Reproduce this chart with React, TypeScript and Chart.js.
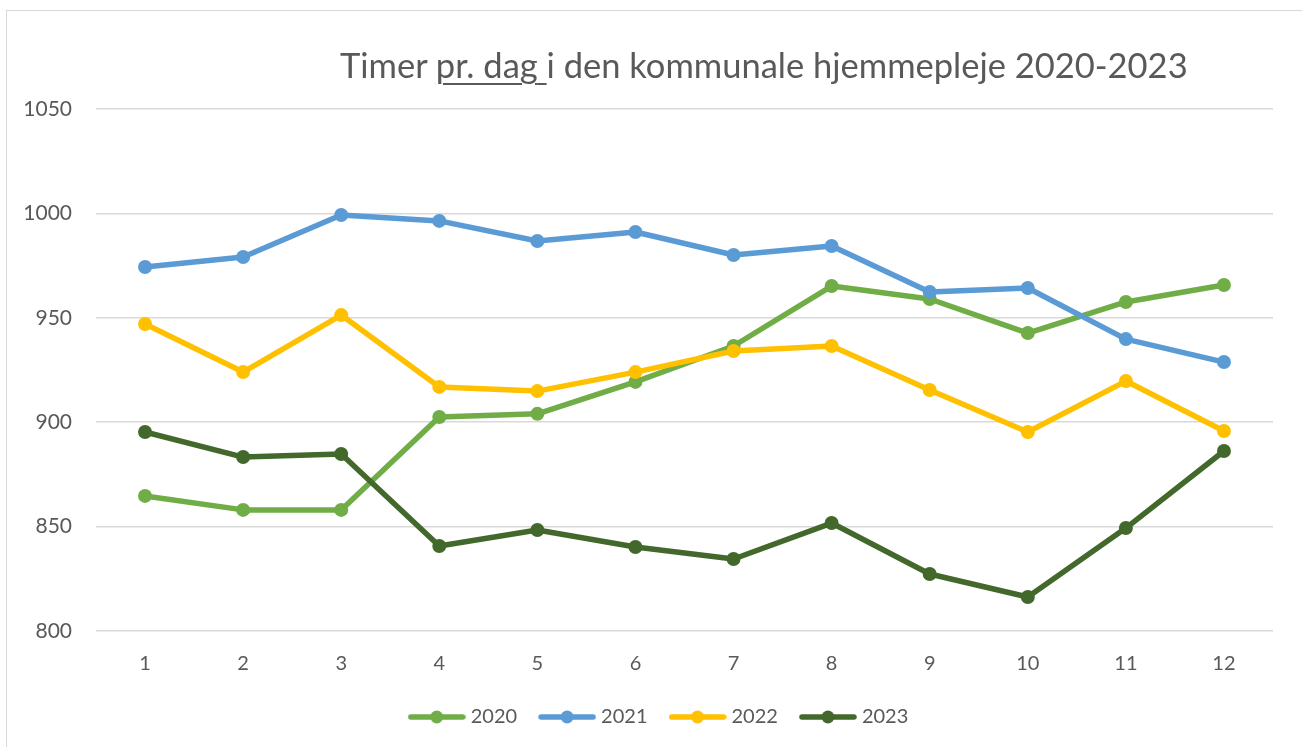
import React, { useEffect, useRef } from "react";
import { Chart, registerables } from "chart.js";
Chart.register(...registerables);

const months = ["1", "2", "3", "4", "5", "6", "7", "8", "9", "10", "11", "12"];
const series2020 = [864.7, 858, 858, 902.5, 904, 919.3, 936.5, 965.2, 959, 942.7, 957.6, 965.7];
const series2021 = [974.3, 979.1, 999.2, 996.4, 986.8, 991.1, 980.1, 984.4, 962.4, 964.3, 939.8, 928.8];
const series2022 = [947, 924, 951.3, 916.9, 914.9, 924, 934.1, 936.5, 915.4, 895.3, 919.7, 895.8];
const series2023 = [895.3, 883.3, 884.8, 840.7, 848.4, 840.2, 834.5, 851.7, 827.3, 816.3, 849.3, 886.2];
const seriesNames = ["2020", "2021", "2022", "2023"];
const seriesColors = ["#70AD47", "#5B9BD5", "#FFC000", "#43682B"];

const FONT = "Lato, 'Open Sans', sans-serif";
const TEXT = "#595959";

function legendImage(color: string) {
  const c = document.createElement("canvas");
  c.width = 58;
  c.height = 16;
  const ctx = c.getContext("2d")!;
  ctx.strokeStyle = color;
  ctx.lineWidth = 5.5;
  ctx.lineCap = "round";
  ctx.beginPath();
  ctx.moveTo(3, 8);
  ctx.lineTo(55, 8);
  ctx.stroke();
  ctx.fillStyle = color;
  ctx.beginPath();
  ctx.arc(29, 8, 6.5, 0, Math.PI * 2);
  ctx.fill();
  return c;
}

const shiftLegend = {
  id: "shiftLegend",
  afterLayout(chart: any) {
    const l = chart.legend;
    if (l) {
      l.left += 24;
      l.right += 24;
    }
  },
};

export default function App() {
  const ref = useRef<HTMLCanvasElement>(null);
  useEffect(() => {
    const all = [series2020, series2021, series2022, series2023];
    const images = seriesColors.map(legendImage);
    const chart = new Chart(ref.current!, {
      type: "line",
      plugins: [shiftLegend],
      data: {
        labels: months,
        datasets: all.map((d, i) => ({
          label: seriesNames[i],
          data: d,
          borderColor: seriesColors[i],
          backgroundColor: seriesColors[i],
          pointBackgroundColor: seriesColors[i],
          pointBorderWidth: 0,
          pointRadius: 7,
          pointStyle: "circle",
          borderWidth: 5.5,
          borderCapStyle: "round",
          borderJoinStyle: "round",
          tension: 0,
          order: 3 - i,
        })),
      },
      options: {
        animation: false,
        responsive: false,
        devicePixelRatio: 1,
        layout: { padding: { top: 109, right: 29, bottom: 10, left: 0 } },
        plugins: {
          title: { display: false },
          tooltip: { enabled: false },
          legend: {
            position: "bottom",
            labels: {
              usePointStyle: true,
              pointStyleWidth: 48,
              padding: 26,
              color: TEXT,
              font: { family: FONT, size: 20 },
              generateLabels: (ch: any) =>
                ch.data.datasets.map((ds: any, i: number) => ({
                  text: ds.label,
                  fillStyle: ds.borderColor,
                  strokeStyle: ds.borderColor,
                  lineWidth: 0,
                  pointStyle: images[i],
                  hidden: false,
                  datasetIndex: i,
                  fontColor: TEXT,
                })),
            },
          },
        },
        scales: {
          x: {
            type: "category",
            offset: true,
            grid: { display: false, drawTicks: false },
            border: { display: false },
            ticks: { color: TEXT, font: { family: FONT, size: 20 }, padding: 21 },
            afterFit: (s: any) => {
              s.height = 50;
            },
          },
          y: {
            min: 800,
            max: 1050,
            ticks: {
              stepSize: 50,
              color: TEXT,
              font: { family: FONT, size: 21 },
              padding: 24,
              callback: (v: any) => String(v),
            },
            grid: { color: "#d9d9d9", lineWidth: 1.5, drawTicks: false },
            border: { display: false },
            afterFit: (s: any) => {
              s.width = 96;
            },
          },
        },
      },
    });
    return () => chart.destroy();
  }, []);

  return (
    <div style={{ position: "fixed", left: 0, top: 0, width: 1302, height: 747, overflow: "hidden", background: "#fff" }}>
      <div
        style={{
          position: "absolute",
          left: 6,
          top: 10,
          width: 1400,
          height: 900,
          border: "1.5px solid #d9d9d9",
        }}
      />
      <canvas ref={ref} width={1302} height={747} style={{ position: "absolute", left: 0, top: 0 }} />
      <div
        style={{
          position: "absolute",
          left: 340,
          top: 48,
          fontFamily: FONT,
          fontSize: 34.5,
          lineHeight: 1,
          color: TEXT,
          whiteSpace: "nowrap",
        }}
      >
        Timer{" "}
        <span style={{ textDecoration: "underline", textDecorationThickness: 2, textUnderlineOffset: 5 }}>
          pr. dag{" "}
        </span>
        i den kommunale hjemmepleje 2020-2023
      </div>
    </div>
  );
}
